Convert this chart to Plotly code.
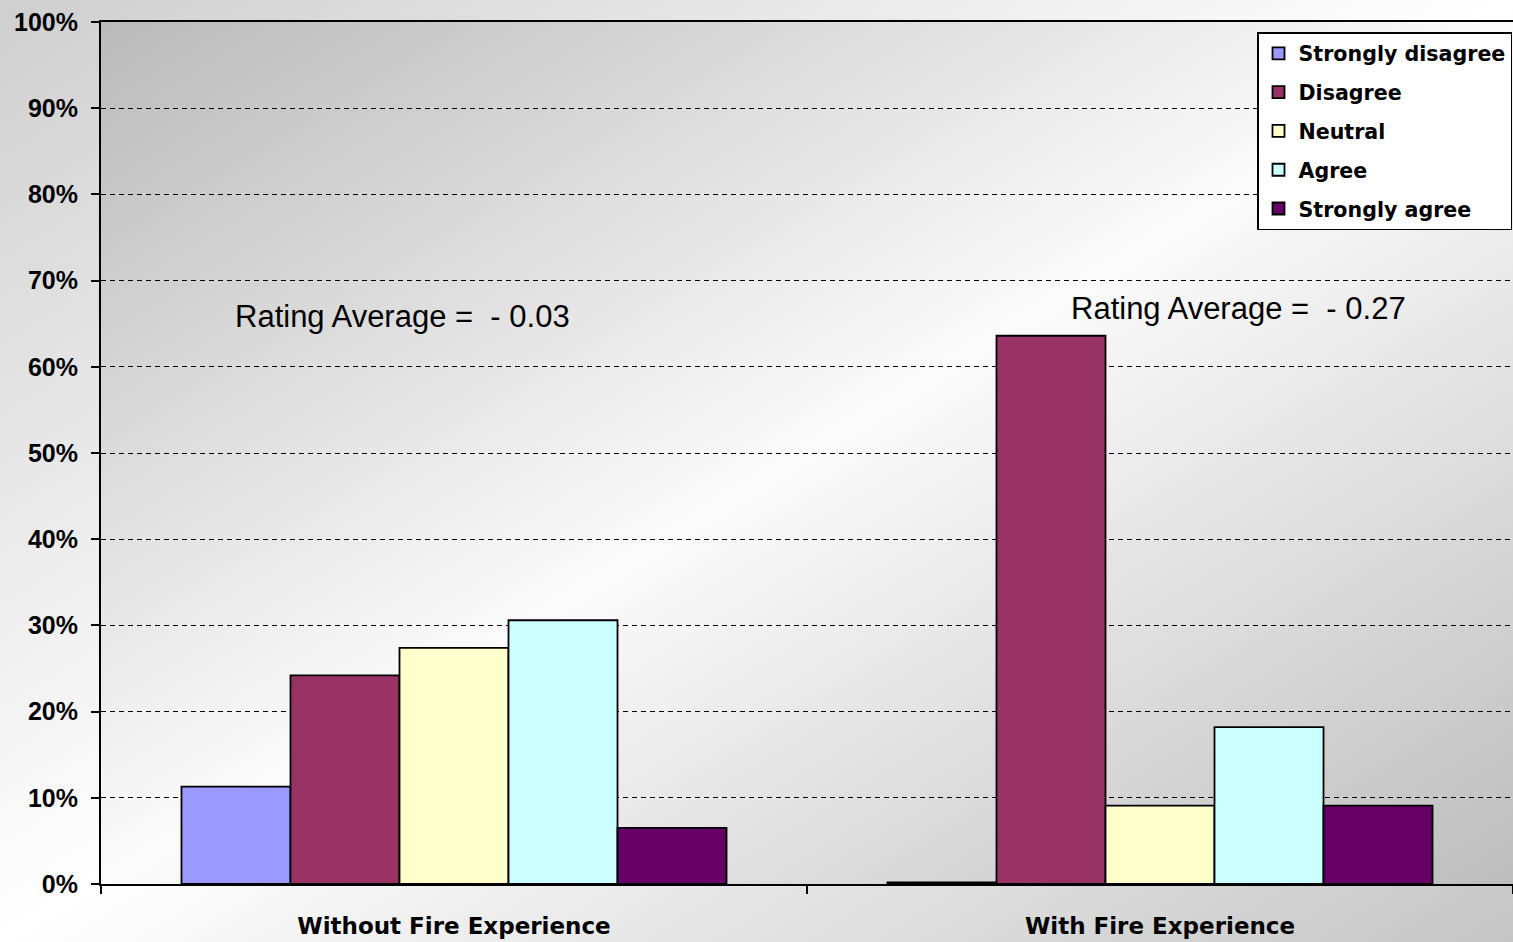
import base64
import plotly.graph_objects as go

# data
groups = ["Without Fire Experience", "With Fire Experience"]
responses = ["Strongly disagree", "Disagree", "Neutral", "Agree", "Strongly agree"]
strongly_disagree = [0.113, 0.002]
disagree = [0.242, 0.636]
neutral = [0.274, 0.091]
agree = [0.306, 0.182]
strongly_agree = [0.065, 0.091]
rating_avg = ["- 0.03", "- 0.27"]

colors = ["#9999FF", "#993366", "#FFFFCC", "#CCFFFF", "#660066"]
series = [strongly_disagree, disagree, neutral, agree, strongly_agree]


def gradient(c0, c1, c2):
    # diagonal grey gradient as an svg data uri (excel-ish chart fill)
    svg = (
        '<svg xmlns="http://www.w3.org/2000/svg" width="100" height="100" '
        'viewBox="0 0 100 100" preserveAspectRatio="none">'
        '<defs><linearGradient id="g" x1="0" y1="0" x2="1" y2="1">'
        f'<stop offset="0" stop-color="{c0}"/>'
        f'<stop offset="0.5" stop-color="{c1}"/>'
        f'<stop offset="1" stop-color="{c2}"/>'
        '</linearGradient></defs>'
        '<rect width="100" height="100" fill="url(#g)"/></svg>'
    )
    return "data:image/svg+xml;base64," + base64.b64encode(svg.encode()).decode()


fig = go.Figure()
for name, vals, col in zip(responses, series, colors):
    fig.add_trace(go.Bar(
        x=groups, y=vals, name=name, legendgroup=name,
        marker=dict(color=col, line=dict(color="black", width=1.8)),
    ))

W, H = 1513, 942
L, R, T, B = 101, 0, 22, 58
pw, ph = W - L - R, H - T - B

fig.update_layout(
    width=W, height=H,
    margin=dict(l=L, r=R, t=T, b=B, autoexpand=False),
    barmode="group", bargap=0.228, bargroupgap=0,
    paper_bgcolor="#e8e8e8",
    plot_bgcolor="rgba(0,0,0,0)",
    font=dict(family="Liberation Sans, Arial", color="black"),
    showlegend=True,
    legend=dict(
        x=(1257 - L) / pw, y=(H - B - 32) / ph, xanchor="left", yanchor="top",
        bgcolor="white", bordercolor="black", borderwidth=1.5,
        font=dict(family="DejaVu Sans", size=20.6, color="black", weight="bold"),
        tracegroupgap=9, itemwidth=30,
    ),
    images=[
        dict(source=gradient("#cfcfcf", "#ffffff", "#c6c6c6"), xref="paper", yref="paper",
             x=-L / pw, y=(H - B) / ph, sizex=W / pw, sizey=H / ph,
             sizing="stretch", layer="below", xanchor="left", yanchor="top"),
        dict(source=gradient("#bababa", "#fbfbfb", "#bdbdbd"), xref="paper", yref="paper",
             x=0, y=1, sizex=1, sizey=1,
             sizing="stretch", layer="below", xanchor="left", yanchor="top"),
    ],
)

fig.update_yaxes(
    range=[0, 1], tickvals=[i / 10 for i in range(11)], tickformat=".0%",
    showgrid=True, gridcolor="black", gridwidth=1.4, griddash="5px,4px",
    showline=True, linecolor="black", linewidth=2,
    ticks="outside", ticklen=8, tickcolor="black", tickwidth=1.5,
    ticklabelstandoff=8, automargin=False,
    tickfont=dict(family="Liberation Sans", size=25, color="black", weight="bold"),
    zeroline=False, fixedrange=True,
)
fig.update_xaxes(
    showline=True, linecolor="black", linewidth=2, mirror=True,
    ticks="outside", tickson="boundaries", ticklen=8, tickcolor="black", tickwidth=1.5,
    ticklabelstandoff=20, automargin=False,
    tickfont=dict(family="DejaVu Sans", size=23, color="black", weight="bold"),
    showgrid=False, fixedrange=True,
)

# rating average notes
ann_pos = [(402, 317), (1238, 308)]
for (px, py), txt in zip(ann_pos, rating_avg):
    fig.add_annotation(
        x=(px - L) / pw, y=(H - B - py) / ph, xref="paper", yref="paper",
        xanchor="center", yanchor="middle",
        text="Rating Average =  " + txt, showarrow=False,
        font=dict(family="Liberation Sans", size=31, color="black"),
    )

# drop page margin / scroll so the figure sits at 0,0
page_js = (
    "document.body.style.margin='0';"
    "document.body.style.overflow='hidden';"
    "document.documentElement.style.overflow='hidden';"
)
fig.write_html("out.html", config={"displayModeBar": False}, post_script=page_js)
